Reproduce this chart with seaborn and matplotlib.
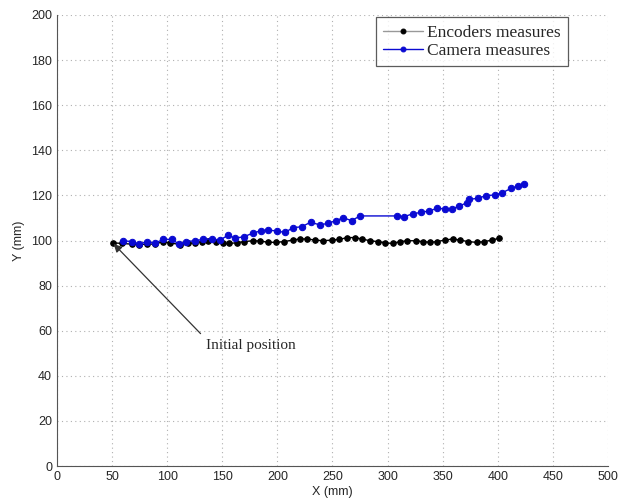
import numpy as np
import pandas as pd
import matplotlib
matplotlib.use("Agg")
import matplotlib.pyplot as plt
import seaborn as sns

# ==============================
# Data
# ==============================

enc_x = [50.5, 59, 67.8, 74.7, 81.4, 88.9, 96.5, 102.5, 111.6, 119.2,
         125.2, 131.3, 137.3, 144.3, 150.9, 156.4, 163, 169.7, 177.6, 184.2,
         191.8, 198.7, 206, 213.9, 220.5, 227.2, 234.1, 241.7, 249.2, 256.2,
         263.5, 270.4, 276.5, 284, 291.6, 297.6, 304.6, 311.3, 317.9, 325.5,
         332.4, 338.5, 344.5, 352.1, 359, 365.7, 373.2, 380.8, 387.5, 395, 401.1]
enc_y = [99.0, 98.7, 98.4, 98.2, 98.4, 98.4, 99.5, 99.0, 98.2, 98.7,
         99.0, 99.5, 99.8, 99.5, 98.7, 98.7, 99.0, 99.5, 99.9, 99.8,
         99.2, 99.2, 99.5, 100.2, 100.7, 100.7, 100.2, 99.9, 100.2, 100.5,
         101.3, 101.3, 100.7, 99.9, 99.5, 99.0, 98.7, 99.5, 99.9, 99.9,
         99.5, 99.2, 99.5, 100.2, 100.7, 100.2, 99.5, 99.2, 99.5, 100.2, 101.0]

cam_x = [60.2, 68.3, 74.7, 81.4, 88.9, 96.5, 104, 111, 117, 125,
         132.8, 140.4, 148, 155.5, 161.5, 169.7, 177.5, 184.8, 191.2, 199.3,
         206.9, 214.4, 222, 230.2, 238.7, 245.6, 253.2, 259.8, 267.4, 275,
         308.2, 314.9, 322.8, 330.3, 337.6, 345.1, 352.1, 358.7, 365.1, 372.3,
         374.2, 382.3, 389, 397.5, 404.1, 412, 418.6, 423.5]
cam_y = [99.9, 99.5, 98.4, 99.5, 98.8, 100.5, 100.5, 98.4, 99.5, 99.9,
         100.5, 100.7, 100.2, 102.4, 101, 101.7, 103.2, 104.3, 104.7, 104.2,
         103.6, 105.7, 106.1, 108.1, 106.9, 107.6, 108.8, 110.1, 108.8, 110.9,
         110.9, 110.6, 111.8, 112.5, 113.1, 114.3, 114, 114, 115.3, 116.8,
         118.3, 118.7, 119.9, 120.2, 121.2, 123.1, 124.2, 125.2]

x_ticks = [0, 50, 100, 150, 200, 250, 300, 350, 400, 450, 500]
y_ticks = [0, 20, 40, 60, 80, 100, 120, 140, 160, 180, 200]

enc = pd.DataFrame({"x": enc_x, "y": enc_y})
cam = pd.DataFrame({"x": cam_x, "y": cam_y})

# ==============================
# Plot
# ==============================

sns.set_style("white")
plt.rcParams["font.family"] = ["Liberation Sans", "DejaVu Sans"]

fig = plt.figure(figsize=(6.32, 4.99), dpi=100)
ax = fig.add_axes([0.090, 0.066, 0.872, 0.904])

sns.lineplot(data=enc, x="x", y="y", sort=False, ax=ax, color="black",
             lw=1.0, marker="o", markersize=4.0, markeredgecolor="black",
             label="Encoders measures")
sns.lineplot(data=cam, x="x", y="y", sort=False, ax=ax, color="#0a0ad2",
             lw=1.0, marker="o", markersize=4.6, markeredgecolor="#0a0ad2",
             label="Camera measures")

ax.set_xlim(0, 500)
ax.set_ylim(0, 200)
ax.set_xticks(x_ticks)
ax.set_yticks(y_ticks)
ax.tick_params(direction="in", length=4, labelsize=9, color="#555555")
ax.grid(True, linestyle=(0, (1, 3)), color="#b0b0b0", lw=0.8)
ax.set_xlabel("X (mm)", fontsize=9, labelpad=2)
ax.set_ylabel("Y (mm)", fontsize=9, labelpad=4)
for side in ["top", "right"]:
    ax.spines[side].set_visible(False)
for side in ["left", "bottom"]:
    ax.spines[side].set_color("#555555")

leg = ax.legend(loc="upper right", bbox_to_anchor=(0.928, 0.996),
                borderaxespad=0,
                prop={"family": "Liberation Serif", "size": 12.5},
                frameon=True, fancybox=False, edgecolor="#333333",
                handlelength=2.3, borderpad=0.45, labelspacing=0.1,
                handletextpad=0.2)
leg.get_frame().set_linewidth(0.9)
leg.legend_handles[0].set_color("#999999")
leg.legend_handles[0].set_markerfacecolor("black")
leg.legend_handles[0].set_markeredgecolor("black")
for h in leg.legend_handles:
    h.set_markersize(3.5)

ax.annotate("Initial position", xy=(51.5, 98.5), xytext=(135, 53.5),
            ha="left", va="center", fontsize=11, family="Liberation Serif",
            arrowprops=dict(arrowstyle="-|>", color="#333333", lw=0.9,
                            relpos=(0.0, 1.0), shrinkA=2, shrinkB=0,
                            mutation_scale=12))

fig.savefig("out.png", dpi=100)
